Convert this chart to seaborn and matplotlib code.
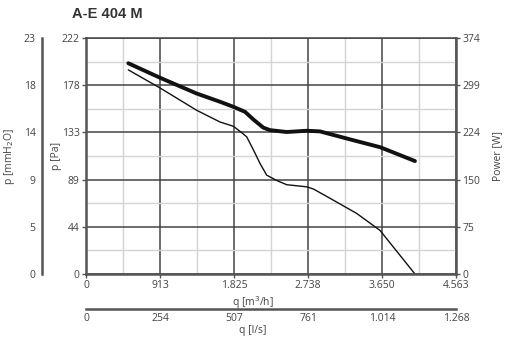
import numpy as np
import pandas as pd
import matplotlib
matplotlib.use("Agg")
import matplotlib.pyplot as plt
import seaborn as sns

# Fan curve A-E 404 M: airflow q [m3/h], static pressure [Pa], absorbed power [W]
flow_pressure = [522, 913, 1365, 1652, 1816, 1920, 1982, 2063, 2146, 2228, 2351,
                 2475, 2721, 2803, 2968, 3338, 3626, 4057]
pressure_pa = [192, 175, 154, 143, 139, 133, 129, 117, 104, 93, 88,
               84, 82, 80, 73, 57, 41, 0]

flow_power = [522, 913, 1365, 1652, 1816, 1961, 2063, 2186, 2269, 2475, 2721,
              2885, 3296, 3626, 4057]
power_w = [334, 311, 286, 273, 265, 257, 245, 232, 228, 225, 227,
           226, 212, 201, 179]

q_m3h_labels = ["0", "913", "1.825", "2.738", "3.650", "4.563"]
q_ls_labels = ["0", "254", "507", "761", "1.014", "1.268"]
p_pa_labels = ["0", "44", "89", "133", "178", "222"]
p_mm_labels = ["0", "5", "9", "14", "18", "23"]
power_labels = ["0", "75", "150", "224", "299", "374"]

Q_MAX, P_MAX, W_MAX = 4563, 222, 374

sns.set_style("white")
plt.rcParams["font.family"] = ["Open Sans", "DejaVu Sans"]

TXT = "#444444"
SPINE = "#555555"
FS = 7.5

fig = plt.figure(figsize=(5.05, 3.4), dpi=100)
W, H = 505, 340
x0, x1, y0, y1 = 86, 456, 274, 38
ax = fig.add_axes([x0 / W, 1 - y0 / H, (x1 - x0) / W, (y0 - y1) / H])
ymid = 1 - ((y0 + y1) / 2) / H

df_p = pd.DataFrame({"q": flow_pressure, "p": pressure_pa})
df_w = pd.DataFrame({"q": flow_power, "w": power_w})

ax.set_xlim(0, Q_MAX)
ax.set_ylim(0, P_MAX)
xt = np.linspace(0, Q_MAX, 6)
yt = np.linspace(0, P_MAX, 6)
ax.set_xticks(xt)
ax.set_xticklabels(q_m3h_labels)
ax.set_yticks(yt)
ax.set_yticklabels(p_pa_labels)
ax.set_xticks((xt[:-1] + xt[1:]) / 2, minor=True)
ax.set_yticks((yt[:-1] + yt[1:]) / 2, minor=True)
ax.grid(which="minor", color="#d4d4d4", lw=1.0)
ax.grid(which="major", color="#444444", lw=1.1)
ax.set_axisbelow(True)
ax.tick_params(axis="both", which="major", length=3, width=1, color=SPINE,
               labelsize=FS, labelcolor=TXT, pad=1.5)
ax.tick_params(which="minor", length=0)
for s in ["left", "bottom", "right"]:
    ax.spines[s].set_color(SPINE)
    ax.spines[s].set_linewidth(1.8)
ax.spines["top"].set_color("#444444")
ax.spines["top"].set_linewidth(1.1)

sns.lineplot(data=df_p, x="q", y="p", ax=ax, color="#111111", lw=1.0,
             solid_joinstyle="round")
ax.set_xlabel("q [m$^3$/h]", fontsize=FS, color=TXT)
ax.xaxis.set_label_coords(0.5, 1 - 294 / H, transform=fig.transFigure)
ax.set_ylabel("p [Pa]", fontsize=FS, color=TXT)
ax.yaxis.set_label_coords(62 / W, ymid, transform=fig.transFigure)

# power on the right-hand axis
axw = ax.twinx()
axw.set_ylim(0, W_MAX)
axw.set_yticks(np.linspace(0, W_MAX, 6))
axw.set_yticklabels(power_labels)
axw.tick_params(axis="y", length=3, width=1, color=SPINE, labelsize=FS,
                labelcolor=TXT, pad=1.5)
for s in axw.spines.values():
    s.set_visible(False)
sns.lineplot(data=df_w, x="q", y="w", ax=axw, color="#111111", lw=2.8,
             solid_joinstyle="round", solid_capstyle="round")
axw.set_ylabel("Power [W]", fontsize=FS, color=TXT)
axw.yaxis.set_label_coords(492 / W, ymid, transform=fig.transFigure)
axw.grid(False)

# pressure in mmH2O on a separate left spine
axm = fig.add_axes([42 / W, 1 - y0 / H, 0.001, (y0 - y1) / H])
axm.set_ylim(0, P_MAX)
axm.set_yticks(yt)
axm.set_yticklabels(p_mm_labels)
axm.set_xticks([])
for s in ["top", "right", "bottom"]:
    axm.spines[s].set_visible(False)
axm.spines["left"].set_color(SPINE)
axm.spines["left"].set_linewidth(1.8)
axm.tick_params(axis="y", length=3, width=1, color=SPINE, labelsize=FS,
                labelcolor=TXT, pad=1.5)
axm.set_ylabel("p [mmH$_2$O]", fontsize=FS, color=TXT)
axm.yaxis.set_label_coords(17 / W, ymid, transform=fig.transFigure)
axm.patch.set_visible(False)

# airflow in l/s on a second bottom axis
axl = ax.twiny()
axl.set_xlim(0, Q_MAX)
axl.xaxis.set_ticks_position("bottom")
axl.xaxis.set_label_position("bottom")
axl.spines["bottom"].set_position(("outward", 35 * 72 / 100))
for s in ["top", "left", "right"]:
    axl.spines[s].set_visible(False)
axl.spines["bottom"].set_color(SPINE)
axl.spines["bottom"].set_linewidth(1.8)
axl.set_xticks(xt)
axl.set_xticklabels(q_ls_labels)
axl.set_xticks([0, Q_MAX], minor=True)
axl.tick_params(axis="x", which="major", length=0, labelsize=FS,
                labelcolor=TXT, pad=3)
axl.tick_params(axis="x", which="minor", length=2.5, width=1.2, color=SPINE)
axl.set_xlabel("q [l/s]", fontsize=FS, color=TXT)
axl.xaxis.set_label_coords(0.5, 1 - 325 / H, transform=fig.transFigure)

fig.text(72 / W, 1 - 14 / H, "A-E 404 M", fontsize=10.5, fontweight="bold",
         color="#333333", va="center", ha="left", family="Liberation Sans")

fig.savefig("out.png", dpi=100)
